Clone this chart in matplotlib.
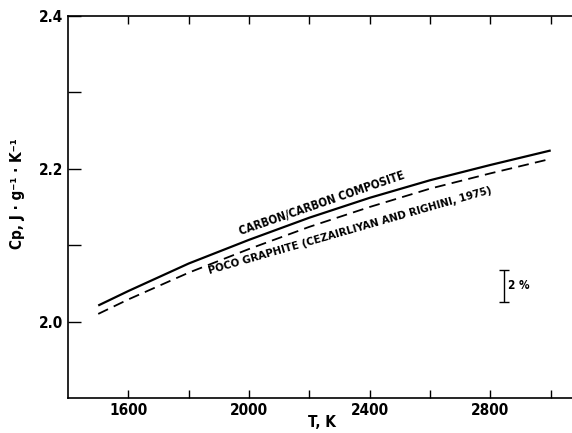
import numpy as np
import matplotlib
matplotlib.use("Agg")
import matplotlib.pyplot as plt

temp = [1500, 1600, 1800, 2000, 2200, 2400, 2600, 2800, 3000]
cp_composite = [2.021, 2.040, 2.076, 2.107, 2.136, 2.162, 2.185, 2.205, 2.224]
cp_poco = [2.010, 2.029, 2.064, 2.095, 2.124, 2.150, 2.174, 2.194, 2.213]

label_composite = "CARBON/CARBON COMPOSITE"
label_poco = "POCO GRAPHITE (CEZAIRLIYAN AND RIGHINI, 1975)"

xticks_major = [1600, 2000, 2400, 2800]
xticks_minor = [1800, 2200, 2600, 3000]
yticks_major = [2.0, 2.2, 2.4]
yticks_minor = [2.1, 2.3]

# 2 % scale bar
bar_x = 2845
bar_center = 2.047
bar_half = 0.021

plt.rcParams['font.family'] = ['DejaVu Sans']
plt.rcParams['font.weight'] = 'bold'
plt.rcParams['font.stretch'] = 'condensed'

fig = plt.figure(figsize=(5.72, 4.33), dpi=100)
ax = fig.add_axes([0.119, 0.081, 0.886, 0.882])

ax.plot(temp, cp_composite, color='black', lw=1.6, solid_capstyle='butt')
ax.plot(temp, cp_poco, color='black', lw=1.3, dashes=(6, 3.5))

ax.text(2240, 2.155, label_composite, rotation=19, ha='center', va='center',
        fontsize=8.3, fontweight='bold', fontstretch='condensed')
ax.text(2335, 2.119, label_poco, rotation=16, ha='center', va='center',
        fontsize=8.2, fontweight='bold', fontstretch='condensed')

ax.errorbar([bar_x], [bar_center], yerr=[bar_half], color='black', lw=1,
            capsize=3.5, capthick=1)
ax.text(bar_x + 12, bar_center, "2 %", ha='left', va='center', fontsize=8.5,
        fontweight='bold', fontstretch='condensed')

ax.set_xlim(1400, 3080)
ax.set_ylim(1.9, 2.4)
ax.set_xticks(xticks_major)
ax.set_xticks(xticks_minor, minor=True)
ax.set_yticks(yticks_major)
ax.set_yticks(yticks_minor, minor=True)
ax.set_yticklabels(["2.0", "2.2", "2.4"])
ax.tick_params(which='both', direction='in', length=6, width=1,
               top=True, right=False, labelsize=11)
ax.tick_params(axis='y', which='both', length=9)
for lab in ax.get_xticklabels() + ax.get_yticklabels():
    lab.set_fontweight('bold')
    lab.set_fontstretch('condensed')

ax.spines['right'].set_visible(False)
for s in ['left', 'top', 'bottom']:
    ax.spines[s].set_linewidth(1.2)

ax.set_xlabel("T, K", fontsize=11, fontweight='bold', labelpad=-2)
ax.set_ylabel("Cp, J · g⁻¹ · K⁻¹", fontsize=11, fontweight='bold')
ax.yaxis.set_label_coords(-0.085, 0.535)

fig.savefig("out.png", dpi=100)
